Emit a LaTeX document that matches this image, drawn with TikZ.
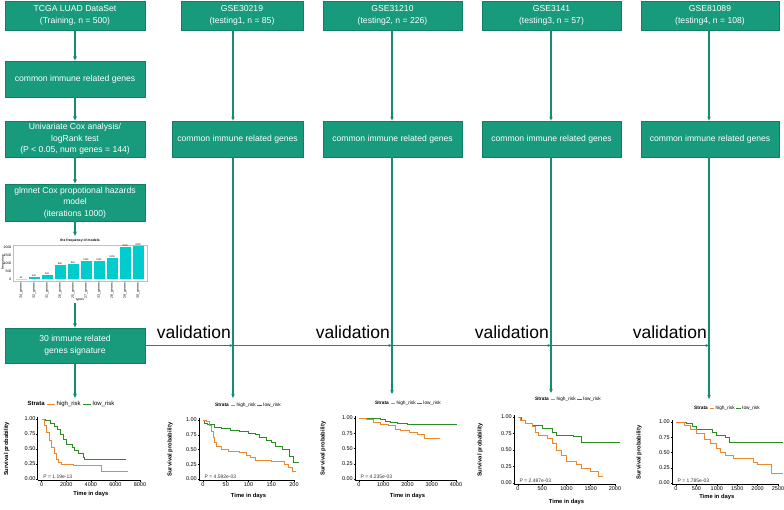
\documentclass[tikz,border=0pt]{standalone}
\usepackage{fontspec}
\setmainfont{Liberation Sans}
\usepackage{xcolor}
\usepackage{tikz}
\usetikzlibrary{positioning,arrows.meta,calc}

\definecolor{boxteal}{RGB}{24,154,124}
\definecolor{boxedge}{RGB}{18,126,100}
\definecolor{flowteal}{RGB}{22,140,114}
\definecolor{kmhigh}{RGB}{236,136,48}
\definecolor{kmlow}{RGB}{44,140,36}
\definecolor{barcyan}{RGB}{0,204,206}
\definecolor{barpale}{RGB}{172,232,232}

\newcommand{\chartfont}{\fontsize{3.4}{4}\selectfont}
\newcommand{\kmlegend}[1]{\textbf{Strata}\hspace{0.35em}\textcolor{kmhigh}{\rule[0.25em]{#1}{0.5pt}}\hspace{0.25em}high\_risk\hspace{0.35em}\textcolor{kmlow}{\rule[0.25em]{#1}{0.5pt}}\hspace{0.25em}low\_risk}

\tikzset{
  stepbox/.style={draw=boxedge, fill=boxteal, text=white, align=center, inner sep=0pt,
    line width=0.8pt, font=\fontsize{8.6}{11.5}\selectfont},
  flow/.style={draw=flowteal, line width=1.5pt, -{Stealth[length=4.5pt,width=4pt]}},
  testflow/.style={draw=flowteal, line width=1.2pt, -{Stealth[length=4pt,width=3.5pt]}},
  valline/.style={draw=flowteal, line width=1.1pt, -{Stealth[length=3.5pt,width=3pt]}},
  valtext/.style={font=\fontsize{17.5}{20}\selectfont, inner sep=0pt},
  kmaxis/.style={draw=black, line width=0.5pt},
  kmtick/.style={font=\fontsize{5.5}{6}\selectfont, inner sep=0.5pt},
  kmlabel/.style={font=\bfseries\fontsize{5.8}{6.5}\selectfont, inner sep=0pt},
  kmp/.style={font=\fontsize{5}{6}\selectfont, text=black!80, inner sep=0.5pt},
  kmleg/.style={font=\fontsize{4.8}{5.5}\selectfont, inner sep=0pt},
  kmhighline/.style={draw=kmhigh, line width=0.9pt},
  kmlowline/.style={draw=kmlow, line width=0.9pt}
}

\begin{document}
\begin{tikzpicture}[x=1pt, y=-1pt]
  \useasboundingbox (0,0) rectangle (784,509);

  % training column
  \node[stepbox, minimum width=140pt, minimum height=29pt] (tcga) at (75,15.5) {TCGA LUAD DataSet\\(Training, n = 500)};
  \node[stepbox, minimum width=140pt, minimum height=36pt] (common) at (75,79) {common immune related genes};
  \node[stepbox, minimum width=140pt, minimum height=36pt] (unicox) at (75,139) {Univariate Cox analysis/\\logRank test\\(P < 0.05, num genes = 144)};
  \node[stepbox, minimum width=140pt, minimum height=37pt] (glmnet) at (75,202.5) {glmnet Cox propotional hazards\\model\\(iterations 1000)};
  \node[stepbox, minimum width=140pt, minimum height=35pt] (signature) at (75,345.5) {30 immune related\\genes signature};

  % testing columns
  \node[stepbox, minimum width=122pt, minimum height=29pt] (gse1) at (242,15.5) {GSE30219\\(testing1, n = 85)};
  \node[stepbox, minimum width=139pt, minimum height=29pt] (gse2) at (392.5,15.5) {GSE31210\\(testing2, n = 226)};
  \node[stepbox, minimum width=139pt, minimum height=29pt] (gse3) at (551.5,15.5) {GSE3141\\(testing3, n = 57)};
  \node[stepbox, minimum width=138pt, minimum height=29pt] (gse4) at (710,15.5) {GSE81089\\(testing4, n = 108)};
  \node[stepbox, minimum width=131pt, minimum height=36pt] (cmn1) at (237.5,139) {common immune related genes};
  \node[stepbox, minimum width=139pt, minimum height=36pt] (cmn2) at (392.5,139) {common immune related genes};
  \node[stepbox, minimum width=139pt, minimum height=36pt] (cmn3) at (551.5,139) {common immune related genes};
  \node[stepbox, minimum width=138pt, minimum height=36pt] (cmn4) at (710,139) {common immune related genes};

  \coordinate (chartTop) at (75,236);
  \coordinate (chartBot) at (75,303);
  \coordinate (km0) at (75,398);
  \coordinate (km1) at (233,398);
  \coordinate (km2) at (392,394);
  \coordinate (km3) at (551,393);
  \coordinate (km4) at (709,399);

  \draw[flow] (tcga) -- (common);
  \draw[flow] (common) -- (unicox);
  \draw[flow] (unicox) -- (glmnet);
  \draw[flow] (glmnet) -- (chartTop);
  \draw[flow] (chartBot) -- (signature);
  \draw[flow] (signature) -- (km0);

  \foreach \i in {1,2,3,4} {
    \draw[testflow] (gse\i.south -| km\i) -- (cmn\i.north -| km\i);
    \draw[testflow] (cmn\i.south -| km\i) -- (km\i);
  }

  % validation line
  \draw[valline] (signature.east) -- (km1 |- signature.east);
  \draw[valline] (km1 |- signature.east) -- (km2 |- signature.east);
  \draw[valline] (km2 |- signature.east) -- (km3 |- signature.east);
  \draw[valline] (km3 |- signature.east) -- (km4 |- signature.east);
  \node[valtext, anchor=base east] (val1) at (231,338) {validation};
  \node[valtext, anchor=base east] (val2) at (390,338) {validation};
  \node[valtext, anchor=base east] (val3) at (549,338) {validation};
  \node[valtext, anchor=base east] (val4) at (707,338) {validation};

  % frequency of models
  \draw[black!25, line width=0.3pt] (13,245) rectangle (147,281);
  \node[font=\bfseries\chartfont, inner sep=0pt] (freqtitle) at (80,241) {the frequency of models};
  \node[font=\chartfont, rotate=90, inner sep=0pt] (freqylab) at (3,262) {frequency};
  \node[font=\chartfont, inner sep=0pt] (freqxlab) at (80,300) {types};
  \foreach \v in {0,500,1000,1500,2000}
    \node[font=\chartfont, anchor=east, inner sep=0.5pt] at (12,{279-\v*0.016}) {\v};
  \fill[barpale] (15.5,279) rectangle ++(11,{-30*0.016});
  \foreach \i/\h/\lab in {2/130/32\_genes,3/250/31\_genes,4/880/26\_genes,5/950/25\_genes,
      6/1100/27\_genes,7/1120/33\_genes,8/1300/28\_genes,9/2000/29\_genes,10/2080/30\_genes}
    \fill[barcyan] ({15.5+13*(\i-1)},279) rectangle ++(11,{-\h*0.016});
  \foreach \i/\h/\lab in {1/30/34\_genes,2/130/32\_genes,3/250/31\_genes,4/880/26\_genes,5/950/25\_genes,
      6/1100/27\_genes,7/1120/33\_genes,8/1300/28\_genes,9/2000/29\_genes,10/2080/30\_genes} {
    \node[font=\fontsize{2.4}{3}\selectfont, inner sep=0.3pt, anchor=south] at ({21+13*(\i-1)},{279-\h*0.016}) {\h};
    \node[font=\chartfont, rotate=90, anchor=east, inner sep=0pt] at ({21+13*(\i-1)},283) {\lab};
  }

  % survival plot 1
  \node[kmleg, font=\fontsize{6}{7}\selectfont] (leg0) at (71,404) {\kmlegend{1.4em}};
  \begin{scope}[shift={(41.7,479)}, x=0.01229pt, y=60pt]
    \draw[kmaxis] ([xshift=-4pt]0,-0.02) -- ([xshift=-4pt]0,1.03);
    \draw[kmaxis] ([xshift=-4pt]0,-0.02) -- (8000,-0.02);
    \foreach \t in {0,2000,4000,6000,8000}
      \draw[kmaxis] (\t,-0.02) -- ++(0,-1.5pt) node[kmtick, below] {\t};
    \foreach \s in {0.00,0.25,0.50,0.75,1.00}
      \draw[kmaxis] ([xshift=-4pt]0,\s) -- ++(-1.5pt,0) node[kmtick, left] {\s};
    \node[kmlabel, rotate=90] (ylab0) at ([xshift=-35pt]0,0.5) {Survival probability};
    \node[kmlabel] (xlab0) at ([yshift=-15pt]4000,0) {Time in days};
    \draw[kmlowline] (0,1) -| (300,0.97) -| (700,0.93) -| (1000,0.88) -| (1300,0.82) -| (1500,0.75)
      -| (1800,0.66) -| (2000,0.57) -| (2500,0.52) -| (2700,0.48) -| (3000,0.42) -| (3400,0.36)
      -| (3500,0.32) -- (6900,0.32);
    \draw[kmhighline] (0,1) -| (200,0.9) -| (400,0.78) -| (600,0.65) -| (800,0.52) -| (1000,0.42)
      -| (1200,0.33) -| (1400,0.28) -| (1600,0.25) -| (2600,0.23) -| (4900,0.12) -- (7000,0.12);
    \node[kmp, anchor=south west] (p0) at ([xshift=1pt]0,-0.01) {P = 1.19e-13};
  \end{scope}

  % survival plot 2
  \node[kmleg] (leg1) at (248,405) {\kmlegend{1em}};
  \begin{scope}[shift={(203,479)}, x=0.455pt, y=59pt]
    \draw[kmaxis] ([xshift=-4pt]0,-0.02) -- ([xshift=-4pt]0,1.03);
    \draw[kmaxis] ([xshift=-4pt]0,-0.02) -- (200,-0.02);
    \foreach \t in {0,50,100,150,200}
      \draw[kmaxis] (\t,-0.02) -- ++(0,-1.5pt) node[kmtick, below] {\t};
    \foreach \s in {0.00,0.25,0.50,0.75,1.00}
      \draw[kmaxis] ([xshift=-4pt]0,\s) -- ++(-1.5pt,0) node[kmtick, left] {\s};
    \node[kmlabel, rotate=90] (ylab1) at ([xshift=-33pt]0,0.5) {Survival probability};
    \node[kmlabel] (xlab1) at ([yshift=-17pt]100,0) {Time in days};
    \draw[kmlowline] (0,1) -| (3,0.95) -| (10,0.92) -| (25,0.88) -| (40,0.85) -| (60,0.82) -| (80,0.8)
      -| (100,0.77) -| (115,0.75) -| (125,0.7) -| (140,0.66) -| (150,0.62) -| (160,0.55) -| (175,0.5)
      -| (190,0.38) -| (198,0.28) -- (212,0.28);
    \draw[kmhighline] (0,1) -| (8,0.97) -| (14,0.9) -| (18,0.8) -| (22,0.7) -| (26,0.62) -| (30,0.55)
      -| (40,0.5) -| (55,0.47) -| (80,0.45) -| (95,0.4) -| (105,0.36) -| (115,0.32) -| (150,0.3)
      -| (178,0.25) -| (188,0.2) -| (196,0.13) -- (205,0.13);
    \node[kmp, anchor=south west] (p1) at ([xshift=1pt]0,-0.01) {P = 4.592e-03};
  \end{scope}

  % survival plot 3
  \node[kmleg] (leg2) at (408,403) {\kmlegend{1em}};
  \begin{scope}[shift={(359,479)}, x=0.02425pt, y=61pt]
    \draw[kmaxis] ([xshift=-4pt]0,-0.02) -- ([xshift=-4pt]0,1.03);
    \draw[kmaxis] ([xshift=-4pt]0,-0.02) -- (4000,-0.02);
    \foreach \t in {0,1000,2000,3000,4000}
      \draw[kmaxis] (\t,-0.02) -- ++(0,-1.5pt) node[kmtick, below] {\t};
    \foreach \s in {0.00,0.25,0.50,0.75,1.00}
      \draw[kmaxis] ([xshift=-4pt]0,\s) -- ++(-1.5pt,0) node[kmtick, left] {\s};
    \node[kmlabel, rotate=90] (ylab2) at ([xshift=-36pt]0,0.5) {Survival probability};
    \node[kmlabel] (xlab2) at ([yshift=-17pt]2000,0) {Time in days};
    \draw[kmlowline] (0,1) -| (600,0.99) -| (900,0.97) -| (1100,0.95) -| (1300,0.93) -| (1600,0.91)
      -| (2000,0.9) -- (4040,0.9);
    \draw[kmhighline] (0,1) -| (300,0.97) -| (600,0.93) -| (900,0.9) -| (1200,0.87) -| (1500,0.82)
      -| (1700,0.79) -| (2100,0.76) -| (2400,0.73) -| (2700,0.66) -- (3350,0.66);
    \node[kmp, anchor=south west] (p2) at ([xshift=1pt]0,-0.01) {P = 4.235e-03};
  \end{scope}

  % survival plot 4
  \node[kmleg] (leg3) at (568,399) {\kmlegend{1em}};
  \begin{scope}[shift={(518,483)}, x=0.0485pt, y=66pt]
    \draw[kmaxis] ([xshift=-4pt]0,-0.02) -- ([xshift=-4pt]0,1.03);
    \draw[kmaxis] ([xshift=-4pt]0,-0.02) -- (2000,-0.02);
    \foreach \t in {0,500,1000,1500,2000}
      \draw[kmaxis] (\t,-0.02) -- ++(0,-1.5pt) node[kmtick, below] {\t};
    \foreach \s in {0.00,0.25,0.50,0.75,1.00}
      \draw[kmaxis] ([xshift=-4pt]0,\s) -- ++(-1.5pt,0) node[kmtick, left] {\s};
    \node[kmlabel, rotate=90] (ylab3) at ([xshift=-38pt]0,0.5) {Survival probability};
    \node[kmlabel] (xlab3) at ([yshift=-19pt]1000,0) {Time in days};
    \draw[kmlowline] (0,1) -| (80,0.95) -| (150,0.9) -| (300,0.87) -| (500,0.82) -| (700,0.77)
      -| (800,0.72) -| (1150,0.7) -| (1300,0.62) -- (2100,0.62);
    \draw[kmhighline] (0,1) -| (50,0.95) -| (150,0.9) -| (300,0.85) -| (350,0.77) -| (420,0.72)
      -| (600,0.68) -| (700,0.6) -| (800,0.5) -| (900,0.42) -| (1000,0.33) -| (1200,0.28)
      -| (1300,0.22) -| (1500,0.18) -| (1650,0.1) -- (1750,0.1);
    \node[kmp, anchor=south west] (p3) at ([xshift=1pt]0,-0.01) {P = 2.487e-03};
  \end{scope}

  % survival plot 5
  \node[kmleg] (leg4) at (727,408) {\kmlegend{1em}};
  \begin{scope}[shift={(676,483)}, x=0.0408pt, y=61pt]
    \draw[kmaxis] ([xshift=-4pt]0,-0.02) -- ([xshift=-4pt]0,1.03);
    \draw[kmaxis] ([xshift=-4pt]0,-0.02) -- (2500,-0.02);
    \foreach \t in {0,500,1000,1500,2000,2500}
      \draw[kmaxis] (\t,-0.02) -- ++(0,-1.5pt) node[kmtick, below] {\t};
    \foreach \s in {0.00,0.25,0.50,0.75,1.00}
      \draw[kmaxis] ([xshift=-4pt]0,\s) -- ++(-1.5pt,0) node[kmtick, left] {\s};
    \node[kmlabel, rotate=90] (ylab4) at ([xshift=-37pt]0,0.5) {Survival probability};
    \node[kmlabel] (xlab4) at ([yshift=-14pt]1000,0) {Time in days};
    \draw[kmlowline] (0,1) -| (250,0.97) -| (400,0.92) -| (500,0.87) -| (900,0.83) -| (1000,0.78)
      -| (1200,0.74) -| (1300,0.66) -- (2620,0.66);
    \draw[kmhighline] (0,1) -| (200,0.95) -| (350,0.88) -| (500,0.82) -| (700,0.72) -| (850,0.65)
      -| (1000,0.56) -| (1100,0.5) -| (1200,0.45) -| (1400,0.4) -| (1900,0.34) -| (2000,0.3)
      -| (2350,0.15) -- (2620,0.15);
    \node[kmp, anchor=south west] (p4) at ([xshift=1pt]0,-0.01) {P = 1.785e-03};
  \end{scope}
\end{tikzpicture}
\end{document}
